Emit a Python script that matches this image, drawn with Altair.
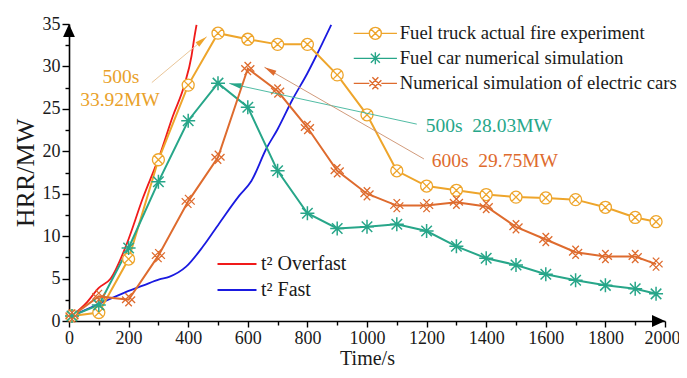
import math
import altair as alt
import pandas as pd

# ---------------- data ----------------
times = [10, 100, 200, 300, 400, 500, 600, 700, 800, 900, 1000,
         1100, 1200, 1300, 1400, 1500, 1600, 1700, 1800, 1900, 1970]
truck = [0.6, 1.0, 7.3, 19.0, 27.8, 33.92, 33.2, 32.6, 32.6, 29.0, 24.3,
         17.7, 15.9, 15.4, 14.9, 14.6, 14.5, 14.3, 13.4, 12.2, 11.7]
fuelcar = [0.6, 1.9, 8.6, 16.4, 23.6, 28.03, 25.2, 17.7, 12.7, 10.9, 11.1,
           11.4, 10.6, 8.8, 7.4, 6.6, 5.5, 4.8, 4.2, 3.8, 3.2]
electric = [0.6, 2.9, 2.5, 7.7, 14.1, 19.3, 29.75, 27.1, 22.8, 17.7, 15.0,
            13.6, 13.6, 14.0, 13.5, 11.1, 9.6, 8.1, 7.6, 7.6, 6.7]
series_names = ["Fuel truck actual fire experiment",
                "Fuel car numerical simulation",
                "Numerical simulation of electric cars"]
series_colors = ["#EEA52B", "#27A689", "#DE6B2E"]

over_t = [10, 60, 100, 140, 194, 247, 304, 348, 388, 411, 421, 428]
over_v = [0.6, 2.2, 3.9, 5.0, 9.1, 14.4, 19.5, 24.1, 27.9, 31.2, 33.5, 34.9]
fast_t = [10, 100, 190, 250, 303, 336, 393, 450, 504, 572, 612, 662, 700, 750, 800, 829, 880]
fast_v = [0.6, 2.0, 3.4, 4.2, 4.9, 5.2, 6.4, 8.8, 11.5, 14.8, 16.5, 20.3, 22.6, 26.1, 29.2, 31.2, 34.9]
curve_names = ["t\u00b2 Overfast", "t\u00b2 Fast"]
curve_colors = ["#F01A1A", "#1A1AE0"]

ann_text = ["500s", "33.92MW", "500s\u00a0\u00a028.03MW", "600s\u00a0\u00a029.75MW"]
ann_t = [174, 171, 1197, 1217]
ann_v = [28.8, 26.1, 23.0, 18.8]
ann_colors = ["#E9A12A", "#E9A12A", "#27A689", "#DE6B2E"]
ann_align = ["center", "center", "left", "left"]

arr_t0 = [278, 1167, 1191]
arr_v0 = [28.1, 23.2, 19.1]
arr_t1 = [462, 538, 656]
arr_v1 = [33.5, 28.0, 29.9]
arr_line_colors = ["#E6BE8C", "#3DB49A", "#CC8E6C"]
arr_head_colors = ["#EEA52B", "#27A689", "#DE6B2E"]

x_ticks = list(range(0, 2001, 100))
y_ticks = [i * 2.5 for i in range(15)]

# ---------------- styling ----------------
FONT = "Liberation Serif"
W, H = 596, 297
X_MAX, Y_MAX = 2000, 35
KX, KY = W / X_MAX, H / Y_MAX

truck_marker = "M1,0A1,1,0,1,1,-1,0A1,1,0,1,1,1,0ZM-0.7,-0.7L0.7,0.7M-0.7,0.7L0.7,-0.7"
teal_marker = "M-1,0L1,0M0,-1L0,1M-0.75,-0.75L0.75,0.75M-0.75,0.75L0.75,-0.75"
elec_marker = "M-1,-0.5L0.5,1M-0.5,-1L1,0.5M-1,0.5L0.5,-1M-0.5,1L1,-0.5"
marker_paths = [truck_marker, teal_marker, elec_marker]
marker_sizes = [144, 196, 169]
marker_widths = [1.3, 1.5, 1.3]
legend_paths = [
    "M-3.6,0L-1,0M1,0L3.6,0" + truck_marker,
    "M-3.6,0L3.6,0" + teal_marker,
    "M-3.6,0L-1,0M1,0L3.6,0" + elec_marker,
]
head_path = "M0,0L-0.42,1.8L0.42,1.8Z"
axis_head = "M0,0L-0.5,1.1L0.5,1.1Z"

# ---------------- tables ----------------
n = len(times)
exp_df = pd.DataFrame({
    "t": times * 3,
    "v": truck + fuelcar + electric,
    "series": [series_names[0]] * n + [series_names[1]] * n + [series_names[2]] * n,
})
curve_df = pd.DataFrame({
    "t": over_t + fast_t,
    "v": over_v + fast_v,
    "curve": [curve_names[0]] * len(over_t) + [curve_names[1]] * len(fast_t),
})
arr_df = pd.DataFrame({
    "i": list(range(3)),
    "t": arr_t0, "v": arr_v0, "t2": arr_t1, "v2": arr_v1,
    "ang": [math.degrees(math.atan2((b - a) * KX, (d - c) * KY)) % 360
            for a, b, c, d in zip(arr_t0, arr_t1, arr_v0, arr_v1)],
})
head_df = pd.DataFrame({"i": list(range(3)), "t": arr_t1, "v": arr_v1, "ang": arr_df["ang"]})
ann_df = pd.DataFrame({"i": list(range(4)), "t": ann_t, "v": ann_v, "txt": ann_text})
axarrow_df = pd.DataFrame({"t": [0, X_MAX], "v": [Y_MAX, 0], "ang": [0, 90]})

xscale = alt.Scale(domain=[0, X_MAX], nice=False, zero=False)
yscale = alt.Scale(domain=[0, Y_MAX], nice=False)

x_axis = alt.Axis(
    values=x_ticks, title="Time/s", grid=False, format="d",
    labelExpr="datum.value % 200 === 0 ? datum.label : ''",
    tickSize={"condition": {"test": "datum.value % 200 === 0", "value": 6}, "value": 4},
    labelOffset={"condition": {"test": "datum.value === 2000", "value": -3}, "value": 0},
    labelFlush=False, labelOverlap=False, labelPadding=2, titlePadding=1,
    titleFontSize=20,
)
y_axis = alt.Axis(
    values=y_ticks, title="HRR/MW", grid=False,
    labelExpr="datum.value % 5 === 0 ? datum.label : ''",
    tickSize={"condition": {"test": "datum.value % 5 === 0", "value": 7}, "value": 4},
    labelFlush=False, labelOverlap=False, labelPadding=2, titlePadding=4,
    titleFontSize=26,
)
X = alt.X("t:Q", scale=xscale, axis=x_axis)
Y = alt.Y("v:Q", scale=yscale, axis=y_axis)

leg1 = alt.Legend(
    title=None, orient="none", legendX=297, legendY=0, padding=0,
    labelFont=FONT, labelFontSize=18.7, labelColor="#1a1a1a", labelLimit=400,
    symbolSize=144, symbolStrokeWidth=1.4, labelOffset=15, rowPadding=5,
)
leg2 = alt.Legend(
    title=None, orient="none", legendX=157, legendY=229, padding=0,
    labelFont=FONT, labelFontSize=20, labelColor="#1a1a1a", labelLimit=300,
    symbolType="M-2,0L2,0", symbolSize=380, symbolStrokeWidth=2,
    labelOffset=13, rowPadding=5,
)
cscale = alt.Scale(domain=series_names, range=series_colors)
sscale = alt.Scale(domain=series_names, range=legend_paths)

layers = []

layers.append(
    alt.Chart(curve_df).mark_line(strokeWidth=1.8, interpolate="monotone").encode(
        x=X, y=Y,
        stroke=alt.Stroke("curve:N", scale=alt.Scale(domain=curve_names, range=curve_colors), legend=leg2),
    )
)
layers.append(
    alt.Chart(exp_df).mark_line(strokeWidth=2).encode(
        x=X, y=Y, color=alt.Color("series:N", scale=cscale, legend=leg1),
    )
)
for k in range(3):
    if k == 0:
        mk = alt.Chart(exp_df).mark_point(shape=marker_paths[k], size=marker_sizes[k], filled=True,
                                          fill="white", stroke=series_colors[k],
                                          strokeWidth=marker_widths[k], opacity=1)
    else:
        mk = alt.Chart(exp_df).mark_point(shape=marker_paths[k], size=marker_sizes[k], filled=False,
                                          stroke=series_colors[k], strokeWidth=marker_widths[k], opacity=1)
    layers.append(mk.transform_filter(alt.datum.series == series_names[k]).encode(x=X, y=Y))

# legend-only layer (no rows drawn)
layers.append(
    alt.Chart(exp_df).transform_filter("false").mark_point(filled=False, strokeWidth=1.4, opacity=1).encode(
        x=X, y=Y,
        color=alt.Color("series:N", scale=cscale, legend=leg1),
        shape=alt.Shape("series:N", scale=sscale, legend=leg1),
    )
)

for k in range(3):
    layers.append(
        alt.Chart(arr_df).transform_filter(alt.datum.i == k).mark_rule(
            strokeWidth=0.9, color=arr_line_colors[k]).encode(x=X, y=Y, x2="t2:Q", y2="v2:Q")
    )
    layers.append(
        alt.Chart(head_df).transform_filter(alt.datum.i == k).mark_point(
            shape=head_path, size=180, filled=True, color=arr_head_colors[k], opacity=1).encode(
            x=X, y=Y, angle=alt.Angle("ang:Q", scale=None))
    )

for k in range(4):
    layers.append(
        alt.Chart(ann_df).transform_filter(alt.datum.i == k).mark_text(
            font=FONT, fontSize=19.5, align=ann_align[k], baseline="middle", color=ann_colors[k]).encode(
            x=X, y=Y, text="txt:N")
    )

layers.append(
    alt.Chart(axarrow_df).mark_point(shape=axis_head, size=560, filled=True, color="black", opacity=1).encode(
        x=X, y=Y, angle=alt.Angle("ang:Q", scale=None))
)

chart = alt.layer(*layers).properties(
    width=W, height=H,
    padding={"left": 61, "top": 16, "right": 14, "bottom": 49},
    autosize=alt.AutoSizeParams(type="none"),
).configure_view(stroke=None).configure_axis(
    domainColor="black", domainWidth=1.6, tickColor="black", tickWidth=1.4,
    labelFont=FONT, labelFontSize=18, labelColor="#1a1a1a",
    titleFont=FONT, titleFontWeight="normal", titleColor="#1a1a1a",
)

chart.save("out.html", embed_options={"renderer": "svg", "actions": False})
